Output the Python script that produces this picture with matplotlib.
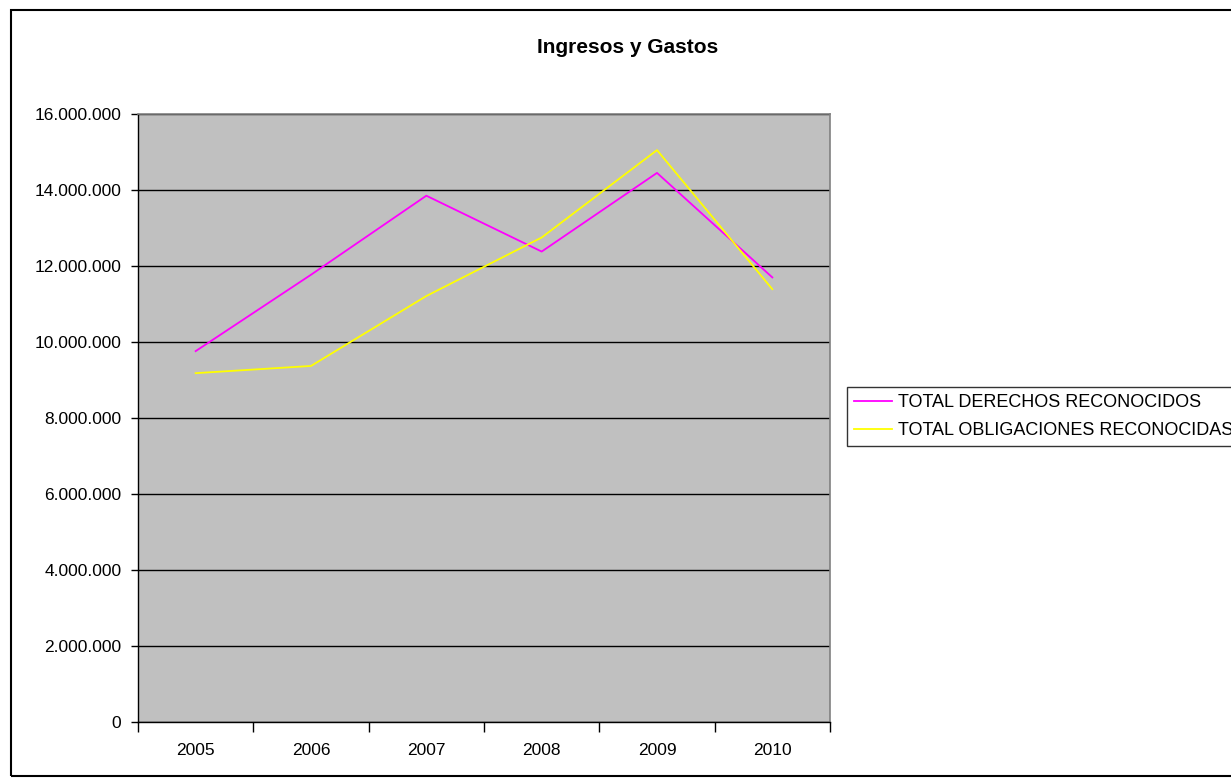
import matplotlib.pyplot as plt
from matplotlib.patches import Rectangle
from matplotlib.ticker import FuncFormatter, FixedLocator

plt.rcParams['font.family'] = ['Liberation Sans', 'DejaVu Sans']

years = ['2005', '2006', '2007', '2008', '2009', '2010']
derechos = [9760000, 11770000, 13850000, 12380000, 14450000, 11700000]
obligaciones = [9180000, 9370000, 11210000, 12750000, 15050000, 11390000]

W, H = 1231, 778
fig = plt.figure(figsize=(W / 100, H / 100), dpi=100)
fig.patch.set_facecolor('white')

# plot area in pixel coordinates
left, right, top, bottom = 138, 830, 114, 722
ax = fig.add_axes([left / W, 1 - bottom / H, (right - left) / W, (bottom - top) / H])
ax.set_facecolor('#C0C0C0')

x = list(range(len(years)))
ax.plot(x, derechos, color='#FF00FF', lw=1.3, label='TOTAL DERECHOS RECONOCIDOS', zorder=3)
ax.plot(x, obligaciones, color='#FFFF00', lw=1.3, label='TOTAL OBLIGACIONES RECONOCIDAS', zorder=3)

ax.set_xlim(-0.5, len(years) - 0.5)
ax.set_ylim(0, 16000000)
ax.set_yticks(range(0, 16000001, 2000000))
ax.yaxis.set_major_formatter(FuncFormatter(lambda v, p: f'{int(v):,}'.replace(',', '.')))
ax.yaxis.grid(True, color='black', lw=1, zorder=1)
ax.set_axisbelow(True)

# category boundaries as ticks, labels centred between them
ax.xaxis.set_major_locator(FixedLocator([i - 0.5 for i in range(len(years) + 1)]))
ax.xaxis.set_minor_locator(FixedLocator(x))
ax.set_xticklabels([])
ax.set_xticklabels(years, minor=True)
ax.tick_params(axis='x', which='major', direction='out', length=7, width=1, color='black')
ax.tick_params(axis='x', which='minor', length=0, pad=15, labelsize=12.5)
ax.tick_params(axis='y', direction='out', length=5, width=1, color='black', pad=7, labelsize=12.5)

for s in ['top', 'right']:
    ax.spines[s].set_color('#808080')
    ax.spines[s].set_linewidth(1.2)
for s in ['left', 'bottom']:
    ax.spines[s].set_color('black')
    ax.spines[s].set_linewidth(1)

fig.text(628 / W, 1 - 53 / H, 'Ingresos y Gastos', ha='center', va='baseline',
         fontsize=15, fontweight='bold')

leg = fig.legend(loc='upper left', bbox_to_anchor=(847 / W, 1 - 387 / H),
                 fontsize=13, frameon=True, fancybox=False, handlelength=2.1,
                 handletextpad=0.3, borderpad=0.4, labelspacing=0.6, borderaxespad=0)
leg.get_frame().set_edgecolor('black')
leg.get_frame().set_linewidth(1)

# outer chart border
fig.add_artist(Rectangle((11 / W, 2 / H), 1.1, 1 - 12 / H, transform=fig.transFigure,
                         fill=False, edgecolor='black', lw=1.5, clip_on=False))

fig.savefig('out.png', dpi=100)
